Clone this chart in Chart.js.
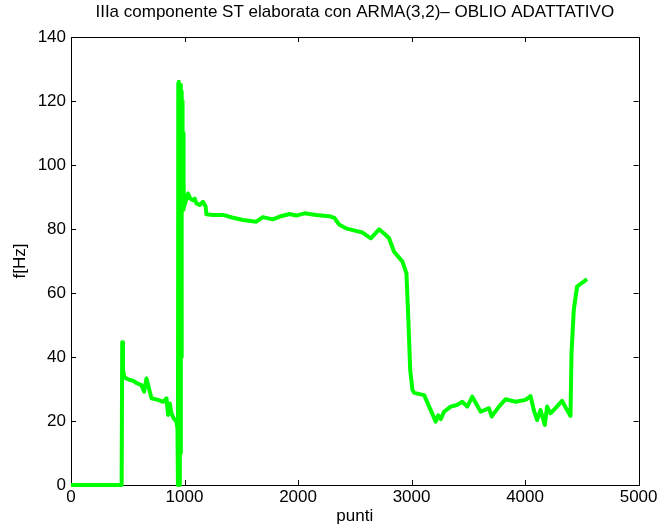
<!DOCTYPE html>
<html>
<head>
<meta charset="utf-8">
<title>IIIa componente ST</title>
<script src="https://cdn.jsdelivr.net/npm/chart.js@4.4.1/dist/chart.umd.min.js"></script>
<style>
  html, body { margin: 0; padding: 0; background: #fff; }
  #wrap { width: 660px; height: 531px; }
</style>
</head>
<body>
<div id="wrap"><canvas id="chart"></canvas></div>
<script>
// sample index (punti) and estimated frequency (Hz)
var punti = [
  0, 440, 446, 451, 458, 470, 489, 518, 547, 580, 621, 644, 665, 709, 767, 811,
  841, 855, 870, 885, 905, 929, 938, 942, 945, 948, 951, 954, 957, 960, 963, 966,
  969, 972, 975, 978, 981, 984, 987, 990, 993, 996, 1010, 1031, 1050, 1075, 1090, 1105,
  1134, 1163, 1186, 1193, 1250, 1338, 1420, 1514, 1632, 1690, 1778, 1850, 1924, 1983,
  2056, 2159, 2276, 2320, 2364, 2422, 2500, 2568, 2641, 2714, 2760, 2802, 2846, 2920,
  2955, 2972, 2988, 3008, 3023, 3111, 3155, 3213, 3235, 3257, 3286, 3345, 3400, 3447,
  3491, 3535, 3609, 3682, 3705, 3770, 3828, 3916, 4004, 4048, 4077, 4106, 4136, 4174,
  4194, 4224, 4268, 4326, 4361, 4400, 4409, 4429, 4458, 4502, 4546
];
var freq = [
  0, 0, 0, 44.6, 36, 33.6, 33.3, 32.8, 32.6, 31.8, 31.2, 29.2, 33.3, 27.1, 26.6, 26,
  27.1, 21.9, 25.5, 22.4, 20.8, 19.8, 17.7, 0, 125.5, 0, 126, 0, 125, 0, 125, 10,
  124, 40, 123, 86, 120, 88, 110, 86, 95, 87, 88.5, 91.1, 89.5, 89, 89.5, 88,
  87.5, 88.5, 87, 84.6, 84.4, 84.4, 83.6, 82.8, 82.3, 83.7, 83, 84, 84.7, 84.2,
  84.9, 84.4, 84, 83.5, 81.3, 80.2, 79.5, 78.9, 77.1, 79.9, 78.5, 77.1, 72.9, 69.8,
  66.1, 51.6, 35.9, 29.7, 28.8, 28.1, 24.5, 19.8, 21.8, 20.6, 22.9, 24.5, 25, 26,
  24.5, 27.6, 22.9, 24, 21.4, 24.5, 26.8, 26, 26.6, 27.8, 23.4, 20.3, 23.4, 18.75,
  24.5, 22.4, 24, 26.3, 24, 21.6, 41.1, 54.7, 62, 63.2, 64.3
];
var xTicks = [0, 1000, 2000, 3000, 4000, 5000];
var yTicks = [0, 20, 40, 60, 80, 100, 120, 140];

var fontFamily = '"Liberation Sans", Arial, Helvetica, sans-serif';
var fontSize = 17;

// box around the axes with inward tick marks on all four sides
var frameTicks = {
  id: 'frameTicks',
  beforeDatasetsDraw: function(chart) {
    var ctx = chart.ctx, a = chart.chartArea;
    var xs = chart.scales.x, ys = chart.scales.y;
    var len = 5;
    ctx.save();
    ctx.strokeStyle = '#000';
    ctx.lineWidth = 1;
    ctx.beginPath();
    xTicks.forEach(function(v) {
      var px = Math.round(xs.getPixelForValue(v)) + 0.5;
      ctx.moveTo(px, a.bottom); ctx.lineTo(px, a.bottom - len);
      ctx.moveTo(px, a.top); ctx.lineTo(px, a.top + len);
    });
    yTicks.forEach(function(v) {
      var py = Math.round(ys.getPixelForValue(v)) + 0.5;
      ctx.moveTo(a.left, py); ctx.lineTo(a.left + len, py);
      ctx.moveTo(a.right, py); ctx.lineTo(a.right - len, py);
    });
    ctx.stroke();
    ctx.strokeRect(Math.round(a.left) + 0.5, Math.round(a.top) + 0.5,
      Math.round(a.right - a.left), Math.round(a.bottom - a.top));
    ctx.restore();
  }
};

function plainLabel(v) { return String(v); }

var ctx = document.getElementById('chart').getContext('2d');
var chart = new Chart(ctx, {
  type: 'line',
  data: {
    datasets: [{
      data: punti.map(function(p, i) { return { x: p, y: freq[i] }; }),
      borderColor: '#00ff00',
      borderWidth: 4,
      borderJoinStyle: 'round',
      pointRadius: 0,
      tension: 0,
      fill: false,
      clip: false
    }]
  },
  options: {
    responsive: true,
    maintainAspectRatio: false,
    animation: false,
    layout: { padding: { left: 0, right: 20, top: 0, bottom: 0 } },
    plugins: {
      legend: { display: false },
      tooltip: { enabled: false },
      title: {
        display: true,
        fullSize: false, // centre over the plot area, not the whole canvas
        text: 'IIIa componente ST elaborata con ARMA(3,2)– OBLIO ADATTATIVO',
        color: '#000',
        font: { family: fontFamily, size: fontSize, weight: 'normal' },
        padding: { top: 2, bottom: 14.6 }
      }
    },
    scales: {
      x: {
        type: 'linear',
        min: 0,
        max: 5000,
        afterBuildTicks: function(scale) {
          scale.ticks = xTicks.map(function(v) { return { value: v }; });
        },
        afterFit: function(scale) { scale.height = 46; },
        grid: { display: false, drawTicks: false },
        border: { display: false },
        ticks: {
          color: '#000',
          padding: 2.5,
          maxRotation: 0,
          callback: plainLabel,
          font: { family: fontFamily, size: fontSize }
        },
        title: {
          display: true,
          text: 'punti',
          color: '#000',
          font: { family: fontFamily, size: fontSize },
          padding: { top: 0, bottom: 4 }
        }
      },
      y: {
        type: 'linear',
        min: 0,
        max: 140,
        afterBuildTicks: function(scale) {
          scale.ticks = yTicks.map(function(v) { return { value: v }; });
        },
        afterFit: function(scale) { scale.width = 71; },
        grid: { display: false, drawTicks: false },
        border: { display: false },
        ticks: {
          color: '#000',
          padding: 5,
          callback: plainLabel,
          font: { family: fontFamily, size: fontSize }
        },
        title: {
          display: true,
          text: 'f[Hz]',
          color: '#000',
          font: { family: fontFamily, size: fontSize },
          padding: { top: 10, bottom: 0 }
        }
      }
    }
  },
  plugins: [frameTicks]
});
</script>
</body>
</html>
